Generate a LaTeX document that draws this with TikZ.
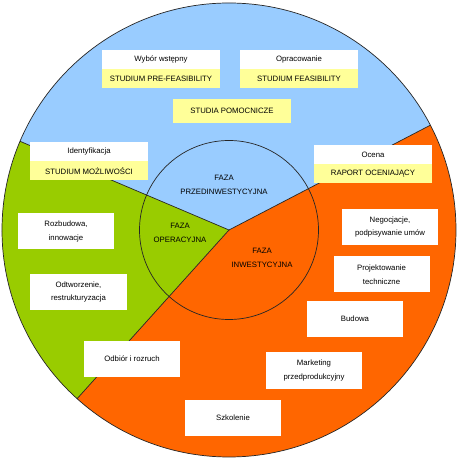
\documentclass[tikz,border=0pt]{standalone}
\usepackage{fontspec}
\setmainfont{Liberation Sans}
\usetikzlibrary{positioning}
\definecolor{preBlue}{HTML}{99CCFF}
\definecolor{opGreen}{HTML}{99CC00}
\definecolor{invOrange}{HTML}{FF6600}
\definecolor{studyYellow}{HTML}{FFFF99}
\begin{document}
\begin{tikzpicture}[x=1bp,y=1bp]
        \tikzstyle{label font}=[font=\fontsize{7.8}{14}\selectfont]
        \tikzstyle{task box}=[label font,fill=white,minimum width=96bp,minimum height=36bp,inner sep=1bp,align=center]
        \tikzstyle{head box}=[label font,fill=white,minimum width=118bp,minimum height=19bp,inner sep=0bp]
        \tikzstyle{study box}=[head box,fill=studyYellow]
        \tikzstyle{phase label}=[label font,align=center]
        \tikzstyle{border}=[draw=black!85,line width=0.7bp]
        \def\R{227}
        \def\r{89.5}

        \useasboundingbox[fill=white] (-229,-230) rectangle (235,230);

        % Sectors of the outer circle
        \coordinate (c) at (0,0);
        \coordinate (po) at (27.5:\R);
        \coordinate (pg) at (157:\R);
        \coordinate (og) at (228:\R);
        \fill[preBlue] (c) -- (po) arc[start angle=27.5,end angle=157,radius=\R] -- cycle;
        \fill[opGreen] (c) -- (pg) arc[start angle=157,end angle=228,radius=\R] -- cycle;
        \fill[invOrange] (c) -- (og) arc[start angle=228,end angle=387.5,radius=\R] -- cycle;
        \draw[border] (c) -- (po);
        \draw[border] (c) -- (pg);
        \draw[border] (c) -- (og);
        \draw[border] (c) circle[radius=\R];
        \draw[border] (c) circle[radius=\r];

        % Phase names
        \node[phase label] (fpre) at (-5,45) {FAZA\\PRZEDINWESTYCYJNA};
        \node[phase label] (fop) at (-49,-3) {FAZA\\OPERACYJNA};
        \node[phase label] (finv) at (33,-28) {FAZA\\INWESTYCYJNA};

        % Studies
        \node[head box] (wyb) at (-68,170.5) {Wybór wstępny};
        \node[study box,below=0pt of wyb] (pre) {STUDIUM PRE-FEASIBILITY};
        \node[head box] (opr) at (70,170.5) {Opracowanie};
        \node[study box,below=0pt of opr] (fea) {STUDIUM FEASIBILITY};
        \node[study box,minimum height=24bp] (pom) at (3,119) {STUDIA POMOCNICZE};
        \node[head box] (ide) at (-140,78.5) {Identyfikacja};
        \node[study box,below=0pt of ide] (moz) {STUDIUM MOŻLIWOŚCI};
        \node[head box] (oce) at (144,75.5) {Ocena};
        \node[study box,below=0pt of oce] (rap) {RAPORT OCENIAJĄCY};

        % Tasks
        \node[task box] (neg) at (161,3) {Negocjacje,\\podpisywanie umów};
        \node[task box] (roz) at (-163,-1.5) {Rozbudowa,\\innowacje};
        \node[task box] (pro) at (152.5,-44.5) {Projektowanie\\techniczne};
        \node[task box] (odt) at (-150.5,-62) {Odtworzenie,\\restrukturyzacja};
        \node[task box] (bud) at (126,-89) {Budowa};
        \node[task box] (odb) at (-97,-129) {Odbiór i rozruch};
        \node[task box] (mar) at (85,-140.5) {Marketing\\przedprodukcyjny};
        \node[task box] (szk) at (4,-188) {Szkolenie};
    \end{tikzpicture}
\end{document}
